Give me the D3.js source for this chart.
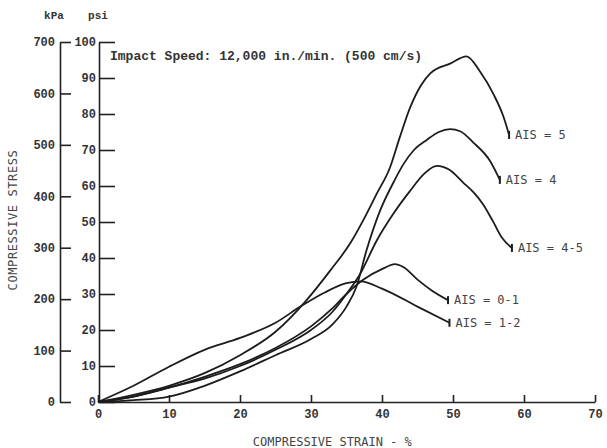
<!DOCTYPE html>
<html>
<head>
<meta charset="utf-8">
<script src="https://cdn.jsdelivr.net/npm/d3@7"></script>
<style>
  body { margin: 0; background: #fff; }
  svg { display: block; }
  .tick text { font-family: "Liberation Mono", monospace; font-weight: bold; font-size: 12px; fill: #333; }
  .domain, .tick line { stroke: #222; stroke-width: 1.6; }
  .lettering { font-family: "DejaVu Sans Mono", monospace; font-size: 12px; fill: #444; }
</style>
</head>
<body>
<svg id="chart"></svg>
<script>
// values: [strain %, stress psi]
const ais5 = [[0,0],[5,2],[10,4.5],[15,8],[20,13],[25,19.5],[29.2,27.9],[32.7,36.5],[35.5,44],[37.5,51],[39.3,58],[41.1,65],[42.5,73.5],[43.9,81.5],[45.5,88],[46.8,91.3],[49.6,94],[51.9,96],[53.8,91.8],[55.7,85.5],[57.1,79.3],[57.9,74.2]];
const ais4 = [[0,0],[5,0.5],[10,1.5],[15,4.5],[20,8.5],[25,13],[30,17.5],[33,21.5],[35,26.5],[36.4,32],[37.8,42],[39.7,53],[41.8,61.7],[43,66],[44.5,70],[46.3,72.8],[48,75],[49.6,75.8],[51,75.2],[52.9,72],[55.2,67],[56.6,61.7]];
const ais45 = [[0,0],[5,1.5],[10,4],[15,6.5],[20,10],[25,14.5],[30,20],[33,25],[35,30],[36.9,35.5],[39.3,45],[41.5,52],[43.9,58.5],[46,63.5],[47.7,65.6],[49.5,64.5],[51.4,61],[53,58],[54.2,55],[55.6,50.3],[56.9,45.6],[58.3,42.8]];
const ais01 = [[0,0],[5,1.5],[10,4],[15,7],[20,10.5],[25,15],[30,21],[33,26],[35,30],[37.4,34],[40.2,37.1],[41.8,38.3],[43,37.5],[45,34],[47,31],[49.3,28.3]];
const ais12 = [[0,0],[5,4.5],[10,9.8],[15,14.5],[20,17.8],[25,22],[28.5,26.5],[32,30.5],[35,33],[37,33.5],[40,31.5],[45,26.5],[49.5,22]];

const seriesNames = ['AIS = 5', 'AIS = 4', 'AIS = 4-5', 'AIS = 0-1', 'AIS = 1-2'];
const seriesData = [ais5, ais4, ais45, ais01, ais12];

const strainTicks = [0, 10, 20, 30, 40, 50, 60, 70];
const psiTicks = [0, 10, 20, 30, 40, 50, 60, 70, 80, 90, 100];
const kpaTicks = [0, 100, 200, 300, 400, 500, 600, 700];

const title = 'Impact Speed: 12,000 in./min. (500 cm/s)';

const width = 607, height = 448;
const svg = d3.select('#chart').attr('width', width).attr('height', height);

const x = d3.scaleLinear().domain([0, 70]).range([98, 595]);
const yPsi = d3.scaleLinear().domain([0, 100]).range([402, 42]);
const yKpa = d3.scaleLinear().domain([0, 700]).range([402, 42]);

// x axis, ticks pointing up
svg.append('g')
    .attr('class', 'xaxis')
    .attr('transform', `translate(0, ${yPsi(0)})`)
    .call(d3.axisBottom(x).tickValues(strainTicks).tickSizeInner(-7).tickSizeOuter(0).tickPadding(7));

// kPa axis
svg.append('g')
    .attr('transform', 'translate(60, 0)')
    .call(d3.axisLeft(yKpa).tickValues(kpaTicks).tickSizeInner(-11).tickSizeOuter(0).tickPadding(5));

// psi axis
svg.append('g')
    .attr('transform', 'translate(99, 0)')
    .call(d3.axisLeft(yPsi).tickValues(psiTicks).tickSizeInner(-16).tickSizeOuter(0).tickPadding(3));

svg.selectAll('.xaxis .tick text').attr('dy', '0.71em');

// unit headers
svg.append('text').attr('x', 54).attr('y', 19).attr('text-anchor', 'middle')
    .style('font-family', '"Liberation Mono", monospace').style('font-weight', 'bold').style('font-size', '11px').style('fill', '#333')
    .text('kPa');
svg.append('text').attr('x', 98).attr('y', 19).attr('text-anchor', 'middle')
    .style('font-family', '"Liberation Mono", monospace').style('font-weight', 'bold').style('font-size', '11px').style('fill', '#333')
    .text('psi');

svg.append('text').attr('x', 110).attr('y', 60)
    .style('font-family', '"Liberation Mono", monospace').style('font-weight', 'bold').style('font-size', '13px').style('fill', '#333')
    .text(title);

// axis titles
svg.append('text').attr('class', 'lettering')
    .attr('x', x(33)).attr('y', 446).attr('text-anchor', 'middle')
    .text('COMPRESSIVE STRAIN - %');
svg.append('text').attr('class', 'lettering')
    .attr('transform', 'rotate(-90)')
    .attr('x', -220).attr('y', 17).attr('text-anchor', 'middle')
    .style('letter-spacing', '0.6px')
    .text('COMPRESSIVE STRESS');

// curves
const line = d3.line()
    .x(d => x(d[0]))
    .y(d => yPsi(d[1]))
    .curve(d3.curveMonotoneX);

seriesData.forEach((s, i) => {
    svg.append('path')
        .attr('d', line(s))
        .attr('fill', 'none')
        .attr('stroke', '#1c1c1c')
        .attr('stroke-width', 1.8);

    const last = s[s.length - 1];
    svg.append('line')
        .attr('x1', x(last[0])).attr('x2', x(last[0]))
        .attr('y1', yPsi(last[1]) - 4).attr('y2', yPsi(last[1]) + 4)
        .attr('stroke', '#1c1c1c').attr('stroke-width', 2);

    svg.append('text').attr('class', 'lettering')
        .attr('x', x(last[0]) + 6).attr('y', yPsi(last[1]) + 4)
        .text(seriesNames[i]);
});
</script>
</body>
</html>
